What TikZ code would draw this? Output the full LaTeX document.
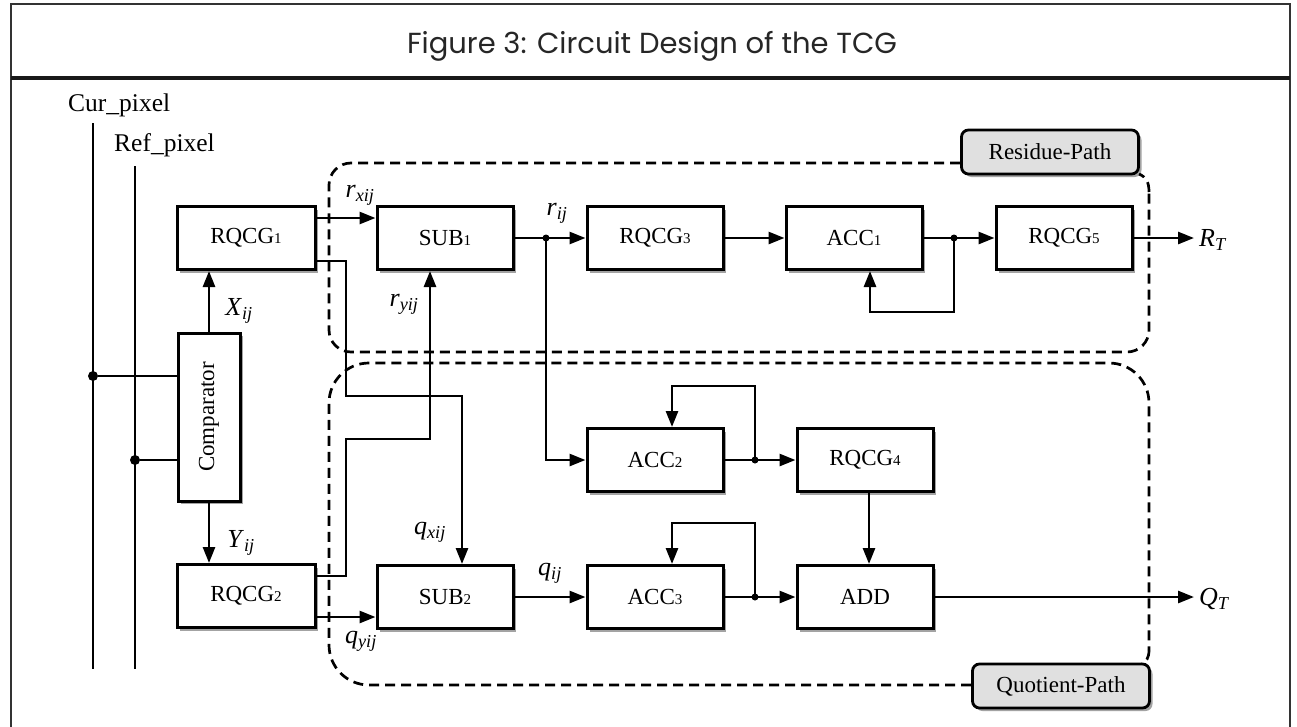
\documentclass[tikz,border=0pt]{standalone}
\usepackage{fontspec}
\setmainfont{Liberation Serif}
\newfontfamily\titlefont{Poppins}
\usetikzlibrary{arrows.meta,shadows}
\newcommand\lbl[2]{\textit{#1}\textsubscript{\textit{#2}}}
\newcommand\idx[1]{{\fontsize{15}{15}\selectfont #1}}
\tikzset{
  blk/.style={draw, line width=3pt, fill=white, inner sep=0pt,
    minimum width=136pt, minimum height=63pt,
    font=\fontsize{23}{25}\selectfont,
    drop shadow={shadow xshift=3pt, shadow yshift=-3pt, fill=black!45, opacity=0.8}},
  tagbox/.style={draw, line width=2.8pt, fill=black!12, rounded corners=7pt, inner sep=0pt,
    minimum width=177pt, minimum height=44pt,
    font=\fontsize{23}{25}\selectfont,
    drop shadow={shadow xshift=3pt, shadow yshift=-3pt, fill=black!45, opacity=0.8}},
  wire/.style={line width=2.7pt},
  arr/.style={wire, -{Triangle[length=16pt,width=12pt]}},
  dashpath/.style={line width=2.7pt, dash pattern=on 10pt off 6pt},
  lab/.style={font=\fontsize{26}{28}\selectfont, inner sep=0pt},
  pinlab/.style={font=\fontsize{25.5}{27}\selectfont, inner sep=0pt, anchor=west},
  bigdot/.style={circle, fill=black, inner sep=0pt, minimum size=10pt},
  smalldot/.style={circle, fill=black, inner sep=0pt, minimum size=7pt},
}
\begin{document}
\begin{tikzpicture}[x=1pt,y=-1pt]
\useasboundingbox (0,0) rectangle (1297,726);
% frame
\draw[line width=2.4pt, black!80] (11,740) -- (11,4) -- (1290,4) -- (1290,740);
\draw[line width=3.5pt, black!90] (11,78) -- (1290,78);
\node[font=\titlefont\fontsize{29}{32}\selectfont, text=black!85] (title) at (652,46) {Figure 3: Circuit Design of the TCG};

% dashed regions
\node[tagbox] (rp) at (1050,152) {Residue-Path};
\node[tagbox] (qp) at (1061,686) {Quotient-Path};
\draw[dashpath, rounded corners=22pt] (rp.west |- 0,163) -- (329,163) -- (329,352) -- (1149,352) -- (1149,192);
\draw[dashpath] (1149,192) .. controls (1149,182) and (1146,177) .. (1139,174);
\draw[dashpath, rounded corners=40pt] (qp.west |- 0,685) -- (329,685) -- (329,363) -- (1149,363) -- (1149,650);
\draw[dashpath] (1149,650) .. controls (1149,658) and (1146,662) .. (1142,664);

% pixel lines
\node[pinlab] (curl) at (68,105) {Cur\_pixel};
\node[pinlab] (refl) at (114,145) {Ref\_pixel};
\coordinate (curtop) at (93,123);
\coordinate (curbot) at (93,669);
\coordinate (reftop) at (135,166);
\coordinate (refbot) at (135,669);
\draw[wire] (curtop) -- (curbot);
\draw[wire] (reftop) -- (refbot);

% blocks
\node[blk, minimum width=62pt, minimum height=168pt] (cmp) at (209,417) {};
\node[rotate=90, font=\fontsize{23}{25}\selectfont] (cmptext) at (cmp.center) {Comparator};
\node[blk, minimum width=138pt] (rq1) at (246,238) {RQCG\idx{1}};
\node[blk, minimum width=138pt] (rq2) at (246,596) {RQCG\idx{2}};
\node[blk] (sub1) at (445,238) {SUB\idx{1}};
\node[blk] (rq3) at (655,238) {RQCG\idx{3}};
\node[blk] (acc1) at (854,238) {ACC\idx{1}};
\node[blk] (rq5) at (1064,238) {RQCG\idx{5}};
\node[blk] (sub2) at (445,597) {SUB\idx{2}};
\node[blk] (acc2) at (655,460) {ACC\idx{2}};
\node[blk] (acc3) at (655,597) {ACC\idx{3}};
\node[blk] (rq4) at (865,460) {RQCG\idx{4}};
\node[blk] (add) at (865,597) {ADD};

% pixel taps
\node[bigdot] (dcur) at (93,376) {};
\node[bigdot] (dref) at (135,460) {};
\draw[wire] (dcur) -- (cmp.west |- dcur);
\draw[wire] (dref) -- (cmp.west |- dref);

% comparator outputs
\draw[arr] (cmp.north) -- (cmp.north |- rq1.south);
\draw[arr] (cmp.south) -- (cmp.south |- rq2.north);
\node[lab] (xij) at (239,311) {\lbl{X}{ij}};
\node[lab] (yij) at (241,543) {\lbl{Y}{ij}};

% RQCG1 / RQCG2 to SUBs
\draw[arr] (rq1.east |- 0,218) -- (sub1.west |- 0,218);
\node[lab] (rxij) at (360,195) {\lbl{r}{xij}};
\draw[arr] (rq1.east |- 0,261) -- (346,261) -- (346,396) -- (462,396) -- (462,0 |- sub2.north);
\node[lab] (qxij) at (430,532) {\lbl{q}{xij}};
\draw[arr] (rq2.east |- 0,576) -- (346,576) -- (346,439) -- (430,439) -- (430,0 |- sub1.south);
\node[lab] (ryij) at (404,304) {\lbl{r}{yij}};
\draw[arr] (rq2.east |- 0,617) -- (sub2.west |- 0,617);
\node[lab] (qyij) at (361,641) {\lbl{q}{yij}};

% residue path
\node[smalldot] (d1) at (546,238) {};
\draw[arr] (sub1.east) -- (rq3.west);
\node[lab] (rij) at (557,213) {\lbl{r}{ij}};
\draw[arr] (d1.center) -- (546,460) -- (acc2.west);
\draw[arr] (rq3.east) -- (acc1.west);
\node[smalldot] (d2) at (954,238) {};
\draw[arr] (acc1.east) -- (rq5.west);
\draw[arr] (d2.center) -- (954,312) -- (870,312) -- (870,0 |- acc1.south);
\coordinate (rtend) at (1194,238);
\draw[arr] (rq5.east) -- (rtend);
\node[lab, anchor=west] (rt) at (1199,240) {\lbl{R}{T}};

% quotient path
\draw[arr] (sub2.east) -- (acc3.west);
\node[lab] (qij) at (550,573) {\lbl{q}{ij}};
\node[smalldot] (d3) at (755,460) {};
\draw[arr] (acc2.east) -- (rq4.west);
\draw[arr] (d3.center) -- (755,386) -- (672,386) -- (672,0 |- acc2.north);
\node[smalldot] (d4) at (755,597) {};
\draw[arr] (acc3.east) -- (add.west);
\draw[arr] (d4.center) -- (755,523) -- (672,523) -- (672,0 |- acc3.north);
\draw[arr] (869,0 |- rq4.south) -- (869,0 |- add.north);
\coordinate (qtend) at (1194,597);
\draw[arr] (add.east) -- (qtend);
\node[lab, anchor=west] (qt) at (1199,599) {\lbl{Q}{T}};
\end{tikzpicture}
\end{document}
